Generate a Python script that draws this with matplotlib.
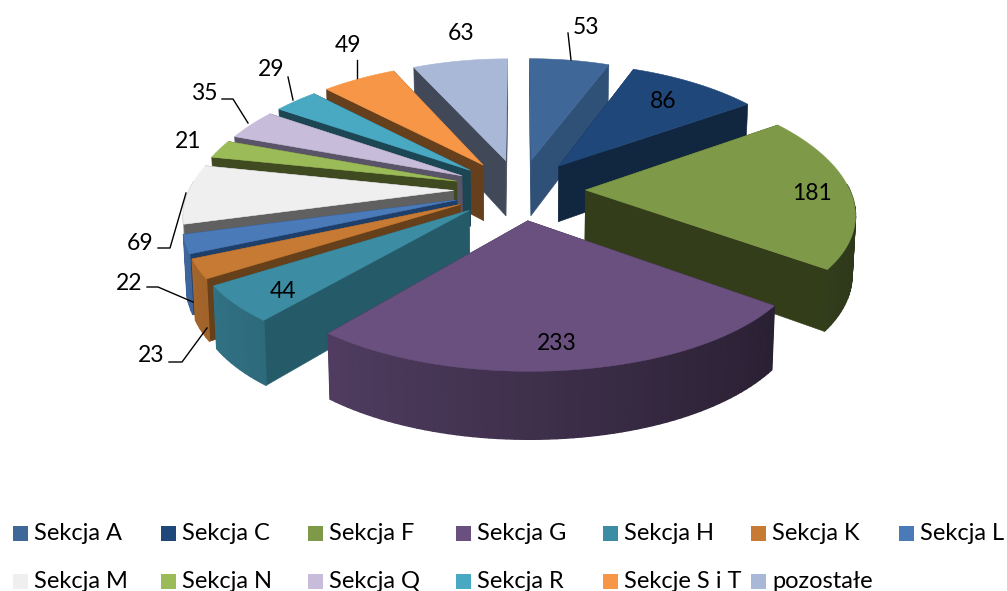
import numpy as np
from matplotlib import pyplot as plt
from matplotlib.patches import Polygon, Rectangle
from matplotlib.colors import to_rgb

names = ['Sekcja A', 'Sekcja C', 'Sekcja F', 'Sekcja G', 'Sekcja H', 'Sekcja K', 'Sekcja L',
         'Sekcja M', 'Sekcja N', 'Sekcja Q', 'Sekcja R', 'Sekcje S i T', 'pozostałe']
values = [53, 86, 181, 233, 44, 23, 22, 69, 21, 35, 29, 49, 63]
top_colors = ['#3f6797', '#1f477a', '#7e9a48', '#69507f', '#3c8ca3', '#c67a34', '#4a7ab8',
              '#efefef', '#9bbb59', '#c7bcd9', '#49a9c3', '#f79646', '#a9b8d6']
wall_colors = ['#2f5077', '#11263f', '#343d1a', '#2a1f38', '#255b69', '#66401a', '#1f3f6b',
               '#606060', '#3f4a20', '#5a5468', '#1d4654', '#66401c', '#414858']

# Положение подписей и выноски (в пикселях)
label_pos = [(586, 27), (663, 101), (812, 194), (557, 343), (283, 291), (151, 356), (129, 283),
             (140, 243), (188, 142), (204, 93), (271, 69), (348, 46), (461, 34)]
leaders = [[(568, 33), (571, 60)],
           [(169, 362), (182, 362), (207, 328)],
           [(147, 287), (158, 287), (193, 302)],
           [(158, 248), (170, 248), (186, 193)],
           [(222, 99), (233, 99), (248, 123)],
           [(288, 77), (293, 100)],
           [(357, 60), (357, 78)]]

# Параметры перспективы
CX, CY = 519.5, 189.5
RX, RY = 264, 122
K = 0.13
KX = 0.165
EXPL = 0.25
H = 57


def project(px, py, down=0.0):
    x = CX + RX * px / (1 + KX * py)
    w = 1 + K * py
    y = CY - RY * py / w + down * H / w
    if down:
        x = CX + (x - CX) * 0.99
    return x, y


def shade(color, f):
    return tuple(min(1, c * f) for c in to_rgb(color))


def quad(ax, p0, p1, color, z, lw=0.4):
    a = project(*p0)
    b = project(*p1)
    c = project(*p1, 1)
    d = project(*p0, 1)
    ax.add_patch(Polygon([a, b, c, d], closed=True, fc=color, ec=color, lw=lw, zorder=z))


def draw_slice(ax, start, end, top, wall, z):
    mid = (start + end) / 2
    ox, oy = EXPL * np.sin(mid), EXPL * np.cos(mid)
    th = np.linspace(start, end, max(int((end - start) * 40), 4))
    ax_pts = np.column_stack([ox + np.sin(th), oy + np.cos(th)])
    apex = (ox, oy)

    # Стенки: сначала дальние
    walls = [((apex[1] + ax_pts[0][1]) / 2, 'a'), ((apex[1] + ax_pts[-1][1]) / 2, 'b'),
             (ax_pts[:, 1].mean(), 'arc')]
    walls.sort(key=lambda w: -w[0])
    for _, kind in walls:
        if kind == 'a':
            quad(ax, apex, ax_pts[0], wall, z)
        elif kind == 'b':
            quad(ax, apex, ax_pts[-1], wall, z)
        else:
            for i in range(len(th) - 1):
                # Дальняя часть дуги не видна
                if np.cos(th[i]) > 0.05:
                    continue
                t = (np.sin(th[i]) + 1) / 2
                quad(ax, ax_pts[i], ax_pts[i + 1], shade(top, 0.85 - 0.5 * t), z, lw=1.0)

    outline = [project(*apex)] + [project(*p) for p in ax_pts]
    ax.add_patch(Polygon(outline, closed=True, fc=top, ec=top, lw=0.4, zorder=z + 0.5))


def main():
    plt.rcParams['font.family'] = ['Lato', 'DejaVu Sans']
    fig = plt.figure(figsize=(10.07, 5.91), dpi=100)
    ax = fig.add_axes([0, 0, 1, 1])
    ax.set_xlim(0, 1007)
    ax.set_ylim(591, 0)
    ax.axis('off')

    fr = np.cumsum([0] + values) / sum(values) * 2 * np.pi
    mids = (fr[:-1] + fr[1:]) / 2
    order = np.argsort(-np.cos(mids))
    for z, i in enumerate(order):
        draw_slice(ax, fr[i], fr[i + 1], top_colors[i], wall_colors[i], z + 1)

    for v, (x, y) in zip(values, label_pos):
        ax.text(x, y, str(v), ha='center', va='center', fontsize=16.5, color='black', zorder=50)
    for pts in leaders:
        xs, ys = zip(*pts)
        ax.plot(xs, ys, color='black', lw=1.0, zorder=40)

    # Легенда
    for i, name in enumerate(names):
        col, row = i % 7, i // 7
        x = 13 + col * 147.6
        y = 533 + row * 48
        ax.add_patch(Rectangle((x, y - 7.5), 15, 15, fc=top_colors[i], ec='none'))
        ax.text(x + 21, y + 0.5, name, ha='left', va='center', fontsize=17, color='black')

    fig.savefig('out.png', dpi=100)


if __name__ == '__main__':
    main()
